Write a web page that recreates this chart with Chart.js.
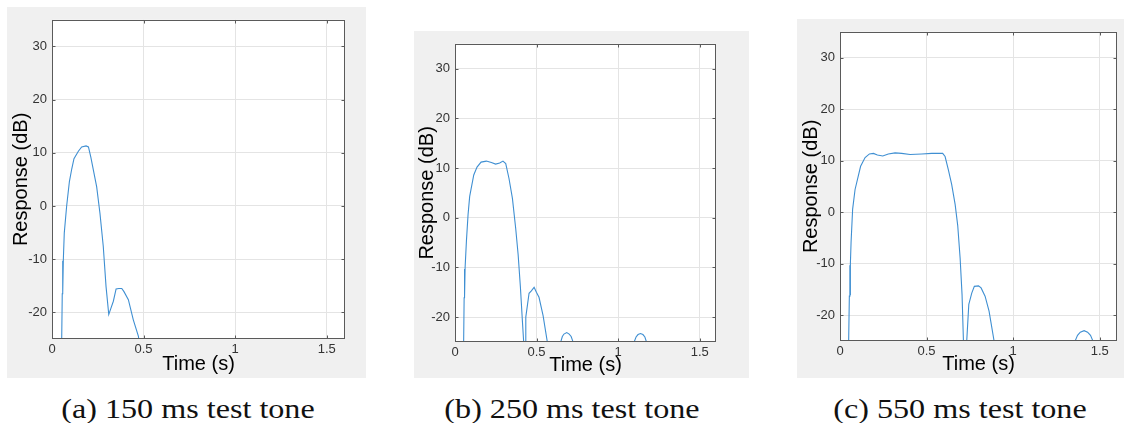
<!DOCTYPE html>
<html>
<head>
<meta charset="utf-8">
<script src="https://cdn.jsdelivr.net/npm/chart.js@4/dist/chart.umd.min.js"></script>
<style>
  body { margin: 0; background: #fff; width: 1133px; height: 423px; position: relative; overflow: hidden; }
  .panel { position: absolute; background: #f0f0f0; }
  .panel canvas { display: block; }
  .cap { position: absolute; top: 396px; width: 340px; text-align: center;
         font-family: "Liberation Serif", "DejaVu Serif", serif; font-size: 27px; line-height: 27px; color: #111;
         transform: scaleX(1.19); }
</style>
</head>
<body>
<div class="panel" style="left:7px;top:7px;width:359px;height:371px"><canvas id="chartA" width="359" height="371"></canvas></div>
<div class="panel" style="left:414px;top:31px;width:335px;height:347px"><canvas id="chartB" width="335" height="347"></canvas></div>
<div class="panel" style="left:797px;top:19px;width:327px;height:359px"><canvas id="chartC" width="327" height="359"></canvas></div>
<div class="cap" style="left:18px">(a) 150 ms test tone</div>
<div class="cap" style="left:402px">(b) 250 ms test tone</div>
<div class="cap" style="left:790px">(c) 550 ms test tone</div>
<script>
// tick labels
const xTicks = [0, 0.5, 1, 1.5];
const yTicks = [-20, -10, 0, 10, 20, 30];

// (a) 150 ms tone - values below -25 dB are off the plot
const timeA = [0.050, 0.053, 0.056, 0.058, 0.059, 0.062, 0.067, 0.080, 0.095, 0.108, 0.120, 0.144, 0.162,
  0.186, 0.199, 0.212, 0.226, 0.244, 0.262, 0.280, 0.295, 0.310, 0.322, 0.335, 0.350, 0.365, 0.381,
  0.393, 0.417, 0.444, 0.472, 0.490];
const respA = [-40, -25, -16.5, -10.3, -16.3, -10, -5.1, 0, 4.6, 7.0, 8.9, 10.3, 11.1,
  11.3, 11.1, 9.2, 6.75, 3.6, -1.4, -7.6, -15.1, -20.4, -19.2, -17.9, -15.6, -15.5, -15.5,
  -16.1, -17.6, -21.4, -24.5, -30];

// (b) 250 ms tone
const timeB = [0.050, 0.053, 0.056, 0.058, 0.059, 0.062, 0.070, 0.080, 0.090, 0.115, 0.135, 0.160, 0.192,
  0.223, 0.249, 0.274, 0.294, 0.311, 0.331, 0.352, 0.372, 0.387, 0.401, 0.413, 0.421, 0.424,
  0.427, 0.430, 0.434, 0.454, 0.468, 0.485, 0.499, 0.515, 0.540, 0.566, 0.575,
  0.640, 0.648, 0.658, 0.668, 0.685, 0.700, 0.712, 0.724, 0.732,
  1.090, 1.098, 1.110, 1.122, 1.137, 1.152, 1.164, 1.174, 1.182];
const respB = [-40, -25, -16.1, -10.3, -16, -10, -4.7, 0.6, 4.3, 8.6, 10.2, 11.2, 11.4,
  11.1, 10.8, 11.0, 11.4, 10.9, 7.9, 3.9, -2.1, -7.4, -14, -20.7, -25, -40,
  -40, -25, -20, -15.2, -14.7, -14, -15, -16, -19.7, -25, -40,
  -40, -25, -23.9, -23.4, -23.1, -23.4, -23.9, -25, -40,
  -40, -25, -24.0, -23.5, -23.3, -23.5, -24.0, -25, -40];

// (c) 550 ms tone
const timeC = [0.046, 0.050, 0.054, 0.057, 0.058, 0.060, 0.064, 0.073, 0.087, 0.119, 0.145, 0.170, 0.193,
  0.216, 0.247, 0.279, 0.318, 0.356, 0.405, 0.472, 0.530, 0.593, 0.607, 0.626, 0.645, 0.665,
  0.680, 0.694, 0.705, 0.713, 0.716,
  0.728, 0.732, 0.744, 0.761, 0.776, 0.800, 0.815, 0.838, 0.861, 0.890, 0.900,
  1.350, 1.358, 1.372, 1.388, 1.410, 1.430, 1.447, 1.461, 1.470];
const respC = [-40, -25, -16.3, -10.3, -16, -10, -5.8, 0.6, 4.4, 8.9, 10.6, 11.3, 11.4,
  11.1, 10.9, 11.3, 11.5, 11.4, 11.2, 11.3, 11.4, 11.4, 10.8, 8.2, 5.4, 1.5,
  -2.6, -9, -16, -25, -40,
  -40, -25, -17.9, -15.7, -14.4, -14.3, -14.7, -16.3, -19.2, -25, -40,
  -40, -25, -23.9, -23.3, -23.0, -23.3, -23.9, -25, -40];

const axisColor = '#5a5a5a';

// white plot area, matlab style box with inward ticks
const boxPlugin = {
  id: 'box',
  beforeDraw(chart) {
    const {ctx, chartArea: a} = chart;
    ctx.save();
    ctx.fillStyle = '#fff';
    ctx.fillRect(a.left, a.top, a.right - a.left, a.bottom - a.top);
    ctx.restore();
  },
  afterDraw(chart) {
    const {ctx, chartArea: a, scales: {x, y}} = chart;
    const L = Math.round(a.left) + 0.5, R = Math.round(a.right) - 0.5;
    const T = Math.round(a.top) + 0.5, B = Math.round(a.bottom) - 0.5;
    ctx.save();
    ctx.strokeStyle = axisColor;
    ctx.lineWidth = 1;
    ctx.strokeRect(L, T, R - L, B - T);
    ctx.beginPath();
    xTicks.forEach(v => {
      const px = Math.round(x.getPixelForValue(v)) + 0.5;
      ctx.moveTo(px, B); ctx.lineTo(px, B - 3);
      ctx.moveTo(px, T); ctx.lineTo(px, T + 3);
    });
    yTicks.forEach(v => {
      const py = Math.round(y.getPixelForValue(v)) + 0.5;
      ctx.moveTo(L, py); ctx.lineTo(L + 3, py);
      ctx.moveTo(R, py); ctx.lineTo(R - 3, py);
    });
    ctx.stroke();
    ctx.restore();
  }
};

function makePanel(id, times, resp, g) {
  const tickFont = {family: '"Liberation Sans", Arial, sans-serif', size: 13};
  const titleFont = {family: '"Liberation Sans", Arial, sans-serif', size: 20};
  new Chart(document.getElementById(id), {
    type: 'line',
    data: {
      datasets: [{
        data: times.map((t, i) => ({x: t, y: resp[i]})),
        borderColor: '#3f8fd2',
        borderWidth: 1.1,
        pointRadius: 0,
        tension: 0,
        fill: false
      }]
    },
    options: {
      responsive: false,
      animation: false,
      devicePixelRatio: 1,
      layout: {padding: {left: 0, top: g.top, right: g.right, bottom: 0}},
      plugins: {legend: {display: false}, tooltip: {enabled: false}},
      scales: {
        x: {
          type: 'linear',
          min: 0, max: 1.6,
          afterBuildTicks: s => { s.ticks = xTicks.map(v => ({value: v})); },
          afterFit: s => { s.height = g.xh; },
          ticks: {font: tickFont, color: '#333', padding: 3, maxRotation: 0, autoSkip: false,
                  callback: v => String(v)},
          grid: {color: '#e4e4e4', drawTicks: false},
          border: {display: false},
          title: {display: true, text: 'Time (s)', font: titleFont, color: '#000',
                  padding: {top: 0, bottom: g.xtPad}}
        },
        y: {
          min: -25, max: 35,
          afterBuildTicks: s => { s.ticks = yTicks.map(v => ({value: v})); },
          afterFit: s => { s.width = g.yw; },
          ticks: {font: tickFont, color: '#333', padding: 5, callback: v => String(v)},
          grid: {color: '#e4e4e4', drawTicks: false},
          border: {display: false},
          title: {display: true, text: 'Response (dB)', font: titleFont, color: '#000',
                  padding: {top: g.ytPad, bottom: 0}}
        }
      }
    },
    plugins: [boxPlugin]
  });
}

makePanel('chartA', timeA, respA, {top: 12, right: 21, xh: 39, yw: 45, xtPad: 2, ytPad: 2});
makePanel('chartB', timeB, respB, {top: 10, right: 33, xh: 36, yw: 41, xtPad: 1, ytPad: 1});
makePanel('chartC', timeC, respC, {top: 7, right: 7, xh: 37, yw: 43, xtPad: 2, ytPad: 2});
</script>
</body>
</html>
